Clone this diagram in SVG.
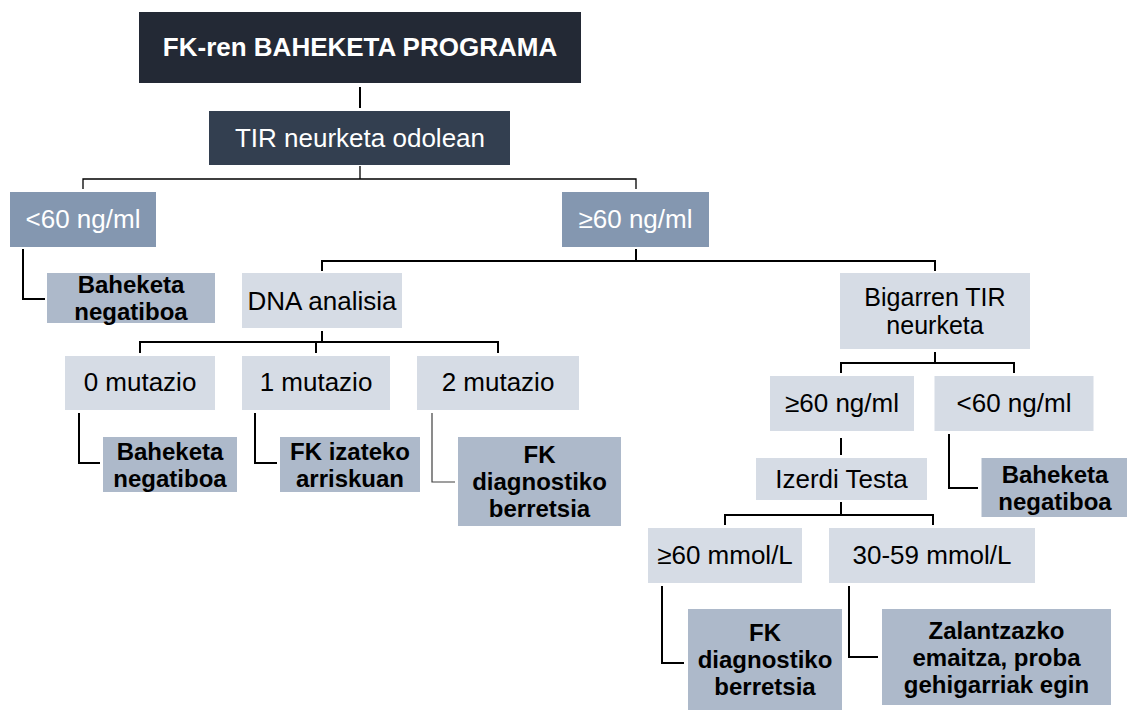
<svg xmlns="http://www.w3.org/2000/svg" width="1127" height="713" viewBox="0 0 1127 713">
<style>
text{font-family:"Liberation Sans",Arial,sans-serif;font-size:26px;text-anchor:middle}
.b{font-weight:bold}
.m{font-size:24px}
.m2{font-size:25px}
.w{fill:#ffffff}
.k{fill:#000000}
.dark{fill:#232935}
.navy{fill:#333f50}
.mid{fill:#8497b0}
.lt{fill:#d6dce5}
.res{fill:#adb9ca}
.c{fill:none;stroke:#000000;stroke-width:2}
.thin{fill:none;stroke:#000000;stroke-width:1.3}
.grey{fill:none;stroke:#404040;stroke-width:1.2}
</style>
<rect width="1127" height="713" fill="#ffffff"/>
<g id="connectors">
<path class="c" d="M360,87V108"/>
<path class="thin" d="M83,189V179H636V189M360,166V179"/>
<path class="c" d="M23,249V299H45"/>
<path class="c" d="M636,249V261M322,271V261H935V271"/>
<path class="c" d="M322,331V342M140,353V342H498V353M316,342V353"/>
<path class="c" d="M79,413V463H100"/>
<path class="c" d="M255,413V463H277"/>
<path class="grey" d="M432,413V482H455"/>
<path class="c" d="M935,352V363M841,373V363H1014V373"/>
<path class="c" d="M841,438V455"/>
<path class="c" d="M949,434V488H978"/>
<path class="c" d="M841,502V515M725,525V515H933V525"/>
<path class="c" d="M662,586V663H684"/>
<path class="c" d="M849,586V657H878"/>
</g>
<g id="title"><rect class="dark" x="139" y="12" width="442" height="71"/><text class="b w" x="360" y="56">FK-ren BAHEKETA PROGRAMA</text></g>
<g id="tir"><rect class="navy" x="209" y="111" width="301" height="54"/><text class="w" x="360" y="147">TIR neurketa odolean</text></g>
<g id="lt60"><rect class="mid" x="10" y="192" width="146" height="55"/><text class="w" x="83" y="228">&lt;60 ng/ml</text></g>
<g id="ge60"><rect class="mid" x="562" y="192" width="147" height="55"/><text class="w" x="635.5" y="228">≥60 ng/ml</text></g>
<g id="neg1"><rect class="res" x="47" y="273" width="168" height="50"/><text class="b k m" x="131" y="293">Baheketa</text><text class="b k m" x="131" y="320">negatiboa</text></g>
<g id="dna"><rect class="lt" x="242" y="273" width="160" height="55"/><text class="k" x="322" y="310">DNA analisia</text></g>
<g id="bigarren"><rect class="lt" x="840" y="273" width="190" height="76"/><text class="k m2" x="935" y="306">Bigarren TIR</text><text class="k m2" x="935" y="334">neurketa</text></g>
<g id="m0"><rect class="lt" x="65" y="356" width="150" height="54"/><text class="k" x="140" y="391">0 mutazio</text></g>
<g id="m1"><rect class="lt" x="242" y="356" width="148" height="54"/><text class="k" x="316" y="391">1 mutazio</text></g>
<g id="m2"><rect class="lt" x="417" y="356" width="162" height="54"/><text class="k" x="498" y="391">2 mutazio</text></g>
<g id="ge60b"><rect class="lt" x="770" y="376" width="144" height="55"/><text class="k" x="842" y="412">≥60 ng/ml</text></g>
<g id="lt60b"><rect class="lt" x="934.5" y="376" width="159" height="55"/><text class="k" x="1014" y="412">&lt;60 ng/ml</text></g>
<g id="neg2"><rect class="res" x="103" y="437" width="134" height="55"/><text class="b k m" x="170" y="460">Baheketa</text><text class="b k m" x="170" y="487">negatiboa</text></g>
<g id="fkrisk"><rect class="res" x="280" y="437" width="140" height="55"/><text class="b k m" x="350" y="460">FK izateko</text><text class="b k m" x="350" y="487">arriskuan</text></g>
<g id="fkdiag1"><rect class="res" x="458" y="437" width="163" height="89"/><text class="b k m" x="539.5" y="463">FK</text><text class="b k m" x="539.5" y="490">diagnostiko</text><text class="b k m" x="539.5" y="517">berretsia</text></g>
<g id="izerdi"><rect class="lt" x="756" y="458" width="171" height="42"/><text class="k" x="841.5" y="488">Izerdi Testa</text></g>
<g id="neg3"><rect class="res" x="981.5" y="458" width="146" height="59"/><text class="b k m" x="1055" y="483">Baheketa</text><text class="b k m" x="1055" y="510">negatiboa</text></g>
<g id="mmol60"><rect class="lt" x="648" y="528" width="154" height="55"/><text class="k" x="725" y="564">≥60 mmol/L</text></g>
<g id="mmol30"><rect class="lt" x="829" y="528" width="206" height="55"/><text class="k" x="932" y="564">30-59 mmol/L</text></g>
<g id="fkdiag2"><rect class="res" x="688" y="609" width="154" height="101"/><text class="b k m" x="765" y="641">FK</text><text class="b k m" x="765" y="668">diagnostiko</text><text class="b k m" x="765" y="695">berretsia</text></g>
<g id="zalantz"><rect class="res" x="882" y="609" width="229" height="96"/><text class="b k m" x="996.5" y="639">Zalantzazko</text><text class="b k m" x="996.5" y="666">emaitza, proba</text><text class="b k m" x="996.5" y="693">gehigarriak egin</text></g>
</svg>
